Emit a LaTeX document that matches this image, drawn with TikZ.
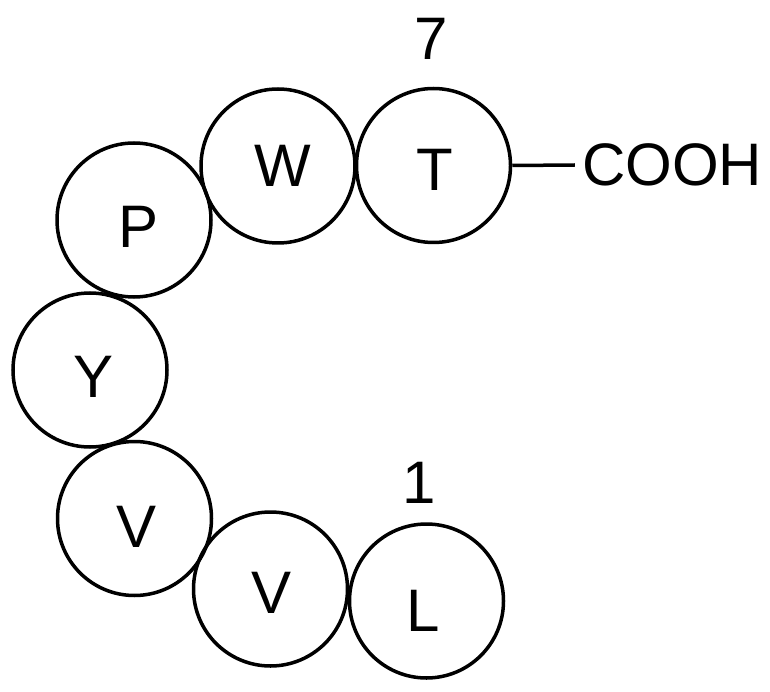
\documentclass[tikz,border=0pt]{standalone}
\usepackage{fontspec}
\setmainfont{Liberation Sans}
\begin{document}
\begin{tikzpicture}[x=1pt,y=-1pt,
  res/.style={circle,draw=black,line width=3.5pt,minimum size=154pt,inner sep=0pt},
  lbl/.style={inner sep=0pt,font=\fontsize{60}{72}\selectfont},
  bond/.style={line width=3.5pt}]
\useasboundingbox (0,0) rectangle (770,692);
% residue circles
\node[res] (T) at (433.5,165.5) {};
\node[res] (W) at (278,166) {};
\node[res] (P) at (134,220) {};
\node[res] (Y) at (90,370) {};
\node[res] (V1) at (134.5,518.5) {};
\node[res] (V2) at (270.5,589) {};
\node[res] (L) at (426.5,601) {};
% residue letters
\node[lbl] (tT) at (435,170) {T};
\node[lbl] (tW) at (283,166) {W};
\node[lbl] (tP) at (139,227) {P};
\node[lbl] (tY) at (94,377) {Y};
\node[lbl] (tV1) at (137,527) {V};
\node[lbl] (tV2) at (272,593) {V};
\node[lbl] (tL) at (423,611) {L};
% numbers
\node[lbl] (n7) at (431,39) {7};
\node[lbl] (n1) at (419,483) {1};
% terminal group
\node[lbl,inner sep=7pt] (cooh) at (672,165) {COOH};
\draw[bond] (T.east) -- (cooh.west);
\end{tikzpicture}
\end{document}
